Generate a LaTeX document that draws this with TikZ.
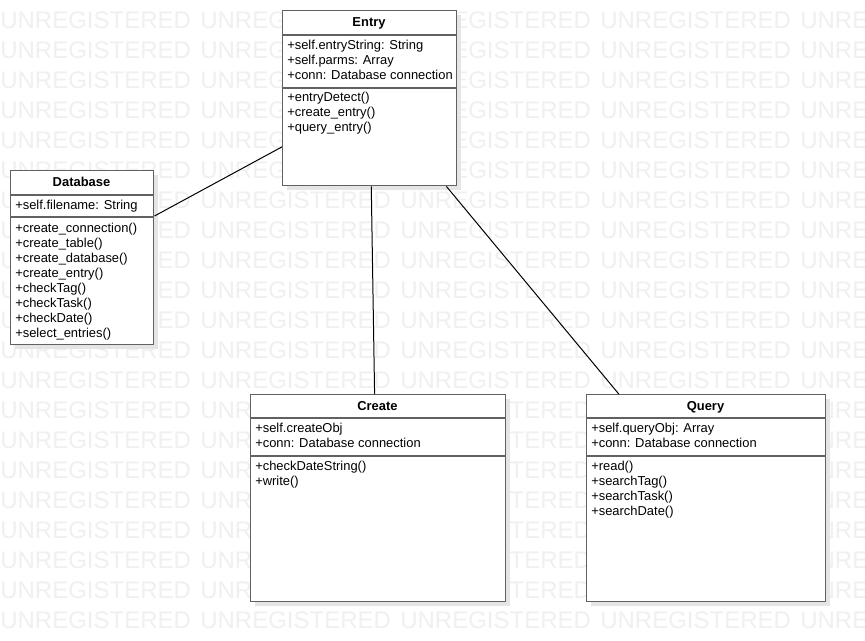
\documentclass[tikz,border=0pt]{standalone}
\usepackage{fontspec}
\setmainfont{Liberation Sans}
\usetikzlibrary{shadows}

\begin{document}
\begin{tikzpicture}[x=0.75pt, y=-0.75pt]
  \tikzstyle{watermark} = [text=black!6, font=\fontsize{18}{18}\selectfont, inner sep=0, anchor=base west]
  \tikzstyle{umlclass} = [draw=black!62, line width=1.1pt, fill=white, anchor=north west, inner sep=0, general shadow={fill=black!10, shadow xshift=3pt, shadow yshift=-3pt}]
  \tikzstyle{classtitle} = [font=\bfseries\fontsize{9.7}{11.25}\selectfont, inner sep=0, anchor=base]
  % members are placed by the baseline of their last line
  \tikzstyle{members} = [font=\fontsize{9.7}{11.25}\selectfont, align=left, inner sep=0, anchor=base west]
  \tikzstyle{divider} = [draw=black!62, line width=1.1pt]
  \tikzstyle{connector} = [draw=black, line width=0.75pt]

  \useasboundingbox[fill=white] (0,0) rectangle (865,641);

  % background watermark
  \foreach \row in {0,...,20}
    \foreach \col in {0,...,4}
      \node[watermark] (wm-\row-\col) at (200*\col, 29+30*\row) {UNREGISTERED};

  % classes
  \node[umlclass, minimum width=130.5pt, minimum height=131.25pt] (entry) at (282,10) {};
  \node[umlclass, minimum width=107.25pt, minimum height=130.5pt] (database) at (10,170) {};
  \node[umlclass, minimum width=191.25pt, minimum height=155.25pt] (create) at (250,394) {};
  \node[umlclass, minimum width=179.25pt, minimum height=155.25pt] (query) at (586,394) {};

  \draw[divider] (entry.west |- 0,35) -- (entry.east |- 0,35);
  \draw[divider] (entry.west |- 0,88) -- (entry.east |- 0,88);
  \draw[divider] (database.west |- 0,195) -- (database.east |- 0,195);
  \draw[divider] (database.west |- 0,217) -- (database.east |- 0,217);
  \draw[divider] (create.west |- 0,418) -- (create.east |- 0,418);
  \draw[divider] (create.west |- 0,456) -- (create.east |- 0,456);
  \draw[divider] (query.west |- 0,418) -- (query.east |- 0,418);
  \draw[divider] (query.west |- 0,456) -- (query.east |- 0,456);

  \node[classtitle] (entry-title) at (369,27) {Entry};
  \node[members] (entry-attrs) at (287,80) {+self.entryString: String\\+self.parms: Array\\+conn: Database connection};
  \node[members] (entry-ops) at (287,132) {+entryDetect()\\+create\_entry()\\+query\_entry()};

  \node[classtitle] (database-title) at (81.5,187) {Database};
  \node[members] (database-attrs) at (15,210) {+self.filename: String};
  \node[members] (database-ops) at (15,338) {+create\_connection()\\+create\_table()\\+create\_database()\\+create\_entry()\\+checkTag()\\+checkTask()\\+checkDate()\\+select\_entries()};

  \node[classtitle] (create-title) at (377.5,411) {Create};
  \node[members] (create-attrs) at (255,448) {+self.createObj\\+conn: Database connection};
  \node[members] (create-ops) at (255,486) {+checkDateString()\\+write()};

  \node[classtitle] (query-title) at (705.5,411) {Query};
  \node[members] (query-attrs) at (591,448) {+self.queryObj: Array\\+conn: Database connection};
  \node[members] (query-ops) at (591,516) {+read()\\+searchTag()\\+searchTask()\\+searchDate()};

  % associations
  \draw[connector] (entry.209) -- (database.30);
  \draw[connector] (entry.-89) -- (create.92);
  \draw[connector] (entry.-49) -- (query.130);
\end{tikzpicture}
\end{document}
